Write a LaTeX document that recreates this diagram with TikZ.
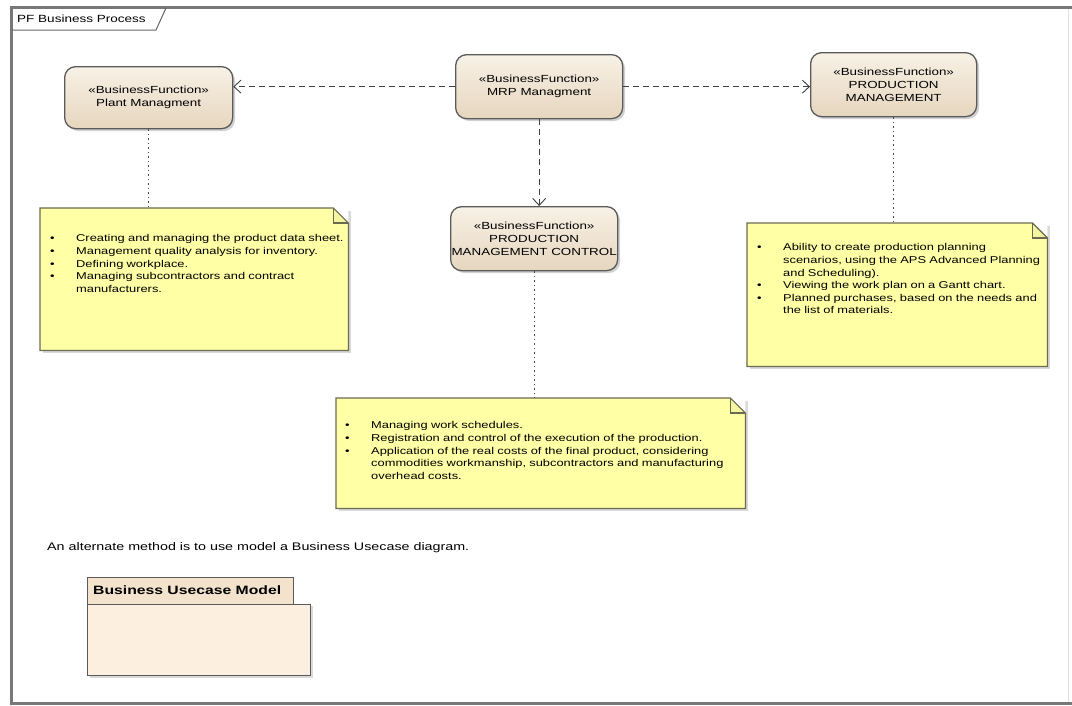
\documentclass[tikz,border=0pt]{standalone}
\usepackage{fontspec}
\setmainfont{Liberation Sans}
\newfontfamily\stretchfont[FakeStretch=1.3]{Liberation Sans}
\usetikzlibrary{calc,arrows.meta}
\definecolor{framegray}{HTML}{787878}
\definecolor{boxtop}{HTML}{F8F1E6}
\definecolor{boxbot}{HTML}{E6D6BE}
\definecolor{boxline}{HTML}{5A5A5A}
\definecolor{notefill}{HTML}{FFFFA6}
\definecolor{noteline}{HTML}{6A6A50}
\definecolor{pkgfill}{HTML}{FCEFE0}
\definecolor{pkgtab}{HTML}{F3E2CC}
\newenvironment{bl}{\begin{list}{\textbullet}{\setlength{\leftmargin}{26pt}\setlength{\labelwidth}{26pt}\setlength{\labelsep}{0pt}\setlength{\itemsep}{0pt}\setlength{\parsep}{0pt}\setlength{\topsep}{0pt}\setlength{\partopsep}{0pt}\renewcommand{\makelabel}[1]{##1\hfil}}}{\end{list}}
\tikzset{
  bfbox/.style={draw=boxline, line width=1.3pt, rounded corners=11pt, top color=boxtop, bottom color=boxbot, align=center, font=\stretchfont\fontsize{10.3}{12.8}\selectfont, inner sep=0pt},
  shadowbox/.style={fill=black!18, rounded corners=11pt, draw=none},
  notebox/.style={fill=notefill, draw=none, inner sep=0pt},
  noteline/.style={draw=noteline, line width=1.2pt, line join=miter},
  notetext/.style={anchor=north west, inner sep=0pt, text width=480pt, font=\stretchfont\fontsize{9.9}{12.6}\selectfont},
  dep/.style={draw=black!75, line width=0.9pt, dash pattern=on 6pt off 4pt, -{Straight Barb[length=7pt,width=13pt,line width=0.9pt]}},
  trace/.style={draw=black!70, line width=0.9pt, dash pattern=on 1.5pt off 3pt},
}
\newcommand{\bfnode}[6]{% name, x1,y1,x2,y2, text
  \fill[shadowbox] (#2+3,#3+3) rectangle (#4+3,#5+3);
  \node[bfbox, minimum width=#4-#2, minimum height=#5-#3, anchor=north west] (#1) at (#2,#3) {#6};
}
\newcommand{\notenode}[5]{% name x1 y1 x2 y2
  \fill[black!15] (#2+3,#3+3) rectangle (#4+3,#5+3);
  \node[notebox, minimum width=#4-#2, minimum height=#5-#3, anchor=north west] (#1) at (#2,#3) {};
  \fill[white] ($(#1.north east)+(-15,0)$) -- (#1.north east) -- ($(#1.north east)+(0,15)$) -- cycle;
  \draw[noteline, fill=notefill!80!black!20!notefill] ($(#1.north east)+(-15,0)$) -- ($(#1.north east)+(-15,15)$) -- ($(#1.north east)+(0,15)$);
  \draw[noteline] (#1.north west) -- ($(#1.north east)+(-15,0)$) -- ($(#1.north east)+(0,15)$) -- (#1.south east) -- (#1.south west) -- cycle;
}
\begin{document}
\begin{tikzpicture}[x=1pt,y=-1pt]
\useasboundingbox (0,0) rectangle (1072,705);
\fill[white] (0,0) rectangle (1072,705);
% frame
\draw[black!12, line width=1pt] (1068,8) -- (1068,703);
\draw[framegray, line width=3pt] (1072,7.5) -- (11.5,7.5) -- (11.5,703.5) -- (1072,703.5);
\draw[black!60, line width=1pt] (12,30) -- (156,30) -- (166,8);
\node[anchor=west, inner sep=0pt, font=\stretchfont\fontsize{10.4}{11}\selectfont] (title) at (17,19) {PF Business Process};

% business functions
\bfnode{plant}{64}{66}{232}{128}{«BusinessFunction»\\Plant Managment}
\bfnode{mrp}{455}{54}{622}{118}{«BusinessFunction»\\MRP Managment}
\bfnode{pm}{810}{52}{976}{116}{«BusinessFunction»\\PRODUCTION\\MANAGEMENT}
\bfnode{pmc}{450}{206}{617}{270}{«BusinessFunction»\\PRODUCTION\\MANAGEMENT CONTROL}

% notes
\notenode{n1}{40}{208}{348}{350}
\notenode{n2}{747}{223}{1047}{366}
\notenode{n3}{336}{398}{745}{508}

\node[notetext] (n1t) at (50,229) {\begin{bl}
\item Creating and managing the product data sheet.
\item Management quality analysis for inventory.
\item Defining workplace.
\item Managing subcontractors and contract\newline manufacturers.
\end{bl}};
\node[notetext] (n2t) at (757,238) {\begin{bl}
\item Ability to create production planning\newline scenarios, using the APS Advanced Planning\newline and Scheduling).
\item Viewing the work plan on a Gantt chart.
\item Planned purchases, based on the needs and\newline the list of materials.
\end{bl}};
\node[notetext] (n3t) at (345,416) {\begin{bl}
\item Managing work schedules.
\item Registration and control of the execution of the production.
\item Application of the real costs of the final product, considering\newline commodities workmanship, subcontractors and manufacturing\newline overhead costs.
\end{bl}};

% connectors
\draw[dep] (mrp.west) -- (plant.east |- mrp.west);
\draw[dep] (mrp.east) -- (pm.west |- mrp.east);
\draw[dep] (mrp.south) -- (mrp.south |- pmc.north);
\draw[trace] (plant.south) -- (plant.south |- n1.north);
\draw[trace] (pmc.south) -- (pmc.south |- n3.north);
\draw[trace] (pm.south) -- (pm.south |- n2.north);

% text
\node[anchor=west, inner sep=0pt, font=\stretchfont\fontsize{11}{14}\selectfont] (alt) at (47,548) {An alternate method is to use model a Business Usecase diagram.};

% package
\fill[black!15] (90,606) rectangle (313,678);
\node[draw=boxline, line width=1.2pt, fill=pkgtab, anchor=north west, minimum width=206, minimum height=27, inner sep=0pt] (pkgtab) at (87,577) {};
\node[draw=boxline, line width=1.2pt, fill=pkgfill, anchor=north west, minimum width=223, minimum height=71, inner sep=0pt] (pkg) at (87,604) {};
\node[anchor=west, inner sep=0pt, font=\stretchfont\bfseries\fontsize{12.1}{14}\selectfont] (pkgname) at (93,590) {Business Usecase Model};
\end{tikzpicture}
\end{document}
